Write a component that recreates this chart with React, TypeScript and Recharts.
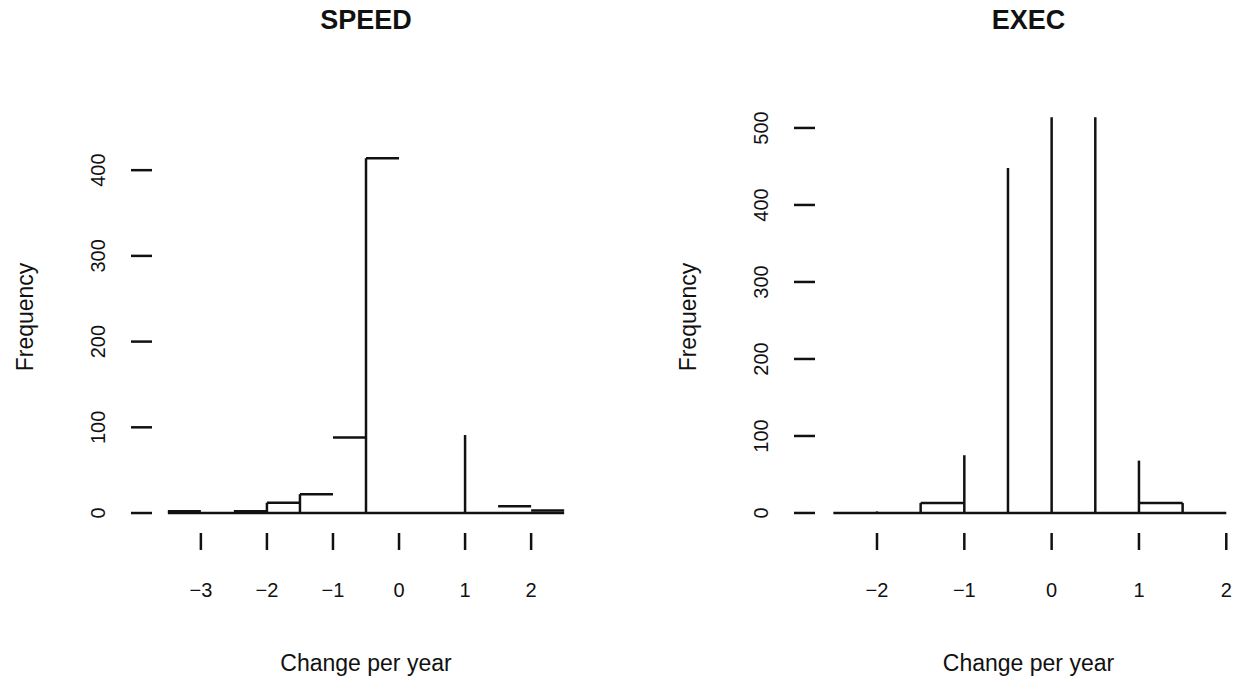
import { ComposedChart, Line, ReferenceLine, XAxis, YAxis } from "recharts";

const FONT = '"Liberation Sans", Arial, Helvetica, sans-serif';
const INK = "#111";
const STROKE = 2.5;

// SPEED histogram (visible strokes only)
const speedXTicks = [-3, -2, -1, 0, 1, 2];
const speedYTicks = [0, 100, 200, 300, 400];
const speedRange = [-3.5, 2.5];
const speedBinFrom = [-3.5, -2.5, -2.0, -1.5, -1.0, -0.5, 1.5, 2.0];
const speedBinTo = [-3.0, -2.0, -1.5, -1.0, -0.5, 0.0, 2.0, 2.5];
const speedBinCount = [2, 2, 12, 22, 88, 414, 8, 3];
const speedEdgeAt = [-2.0, -1.5, -0.5, 1.0];
const speedEdgeCount = [12, 22, 414, 91];

// EXEC histogram
const execXTicks = [-2, -1, 0, 1, 2];
const execYTicks = [0, 100, 200, 300, 400, 500];
const execRange = [-2.5, 2.0];
const execBinFrom = [-1.5, 1.0];
const execBinTo = [-1.0, 1.5];
const execBinCount = [13, 13];
const execEdgeAt = [-2.0, -1.5, -1.0, -0.5, 0.0, 0.5, 1.0, 1.5];
const execEdgeCount = [2, 13, 75, 448, 514, 514, 68, 13];

const fmt = (v: number) => (v < 0 ? `\u2212${Math.abs(v)}` : `${v}`);

function XTick({ x, y, payload }: any) {
  return (
    <text x={x} y={y + 40} textAnchor="middle" dominantBaseline="central" fontSize={20} fontFamily={FONT} fill={INK}>
      {fmt(payload.value)}
    </text>
  );
}

function YTick({ x, y, payload }: any) {
  return (
    <text
      x={x - 33}
      y={y}
      textAnchor="middle"
      dominantBaseline="central"
      fontSize={20}
      fontFamily={FONT}
      fill={INK}
      transform={`rotate(-90, ${x - 33}, ${y})`}
    >
      {payload.value}
    </text>
  );
}

type PanelProps = {
  title: string;
  left: number;
  yAxisWidth: number;
  marginRight: number;
  xDomain: [number, number];
  yDomain: [number, number];
  xTicks: number[];
  yTicks: number[];
  range: number[];
  binFrom: number[];
  binTo: number[];
  binCount: number[];
  edgeAt: number[];
  edgeCount: number[];
  freqOffset: number;
};

function Panel(p: PanelProps) {
  const baseline = p.range.map((x) => ({ x, y: 0 }));
  const plotCenter = p.yAxisWidth + (624 - p.yAxisWidth - p.marginRight) / 2;
  return (
    <div style={{ position: "absolute", left: p.left, top: 0, width: 624, height: 683 }}>
      <div
        style={{
          position: "absolute",
          left: plotCenter - 150,
          width: 300,
          top: 4,
          textAlign: "center",
          fontFamily: FONT,
          fontWeight: "bold",
          fontSize: 27,
          lineHeight: "32px",
          color: INK,
        }}
      >
        {p.title}
      </div>
      <ComposedChart width={624} height={683} data={baseline} margin={{ top: 101, right: p.marginRight, bottom: 0, left: 0 }}>
        <XAxis
          type="number"
          dataKey="x"
          domain={p.xDomain}
          ticks={p.xTicks}
          allowDataOverflow
          axisLine={false}
          tickLine={{ stroke: INK, strokeWidth: STROKE }}
          tickSize={17}
          tickMargin={0}
          tick={<XTick />}
          height={150}
          label={{ value: "Change per year", position: "insideBottom", offset: 12, fontSize: 23, fontFamily: FONT, fill: INK }}
        />
        <YAxis
          type="number"
          domain={p.yDomain}
          ticks={p.yTicks}
          allowDataOverflow
          axisLine={false}
          tickLine={{ stroke: INK, strokeWidth: STROKE }}
          tickSize={21}
          tickMargin={0}
          tick={<YTick />}
          width={p.yAxisWidth}
          label={{
            value: "Frequency",
            angle: -90,
            position: "insideLeft",
            offset: p.freqOffset,
            fontSize: 23,
            fontFamily: FONT,
            fill: INK,
            style: { textAnchor: "middle" },
          }}
        />
        <Line dataKey="y" stroke={INK} strokeWidth={STROKE} dot={false} isAnimationActive={false} />
        {p.binFrom.map((from, i) => (
          <ReferenceLine
            key={`b${i}`}
            segment={[
              { x: from, y: p.binCount[i] },
              { x: p.binTo[i], y: p.binCount[i] },
            ]}
            stroke={INK}
            strokeWidth={STROKE}
            ifOverflow="visible"
          />
        ))}
        {p.edgeAt.map((at, i) => (
          <ReferenceLine
            key={`e${i}`}
            segment={[
              { x: at, y: 0 },
              { x: at, y: p.edgeCount[i] },
            ]}
            stroke={INK}
            strokeWidth={STROKE}
            ifOverflow="visible"
          />
        ))}
      </ComposedChart>
    </div>
  );
}

export default function App() {
  return (
    <div style={{ position: "absolute", left: 0, top: 0, width: 1248, height: 683, background: "#fff" }}>
      <Panel
        title="SPEED"
        left={0}
        yAxisWidth={152}
        marginRight={44}
        xDomain={[-3.74, 2.74]}
        yDomain={[-23.3, 480.7]}
        xTicks={speedXTicks}
        yTicks={speedYTicks}
        range={speedRange}
        binFrom={speedBinFrom}
        binTo={speedBinTo}
        binCount={speedBinCount}
        edgeAt={speedEdgeAt}
        edgeCount={speedEdgeCount}
        freqOffset={25}
      />
      <Panel
        title="EXEC"
        left={624}
        yAxisWidth={191}
        marginRight={6}
        xDomain={[-2.71, 2.18]}
        yDomain={[-26, 535]}
        xTicks={execXTicks}
        yTicks={execYTicks}
        range={execRange}
        binFrom={execBinFrom}
        binTo={execBinTo}
        binCount={execBinCount}
        edgeAt={execEdgeAt}
        edgeCount={execEdgeCount}
        freqOffset={64}
      />
    </div>
  );
}
